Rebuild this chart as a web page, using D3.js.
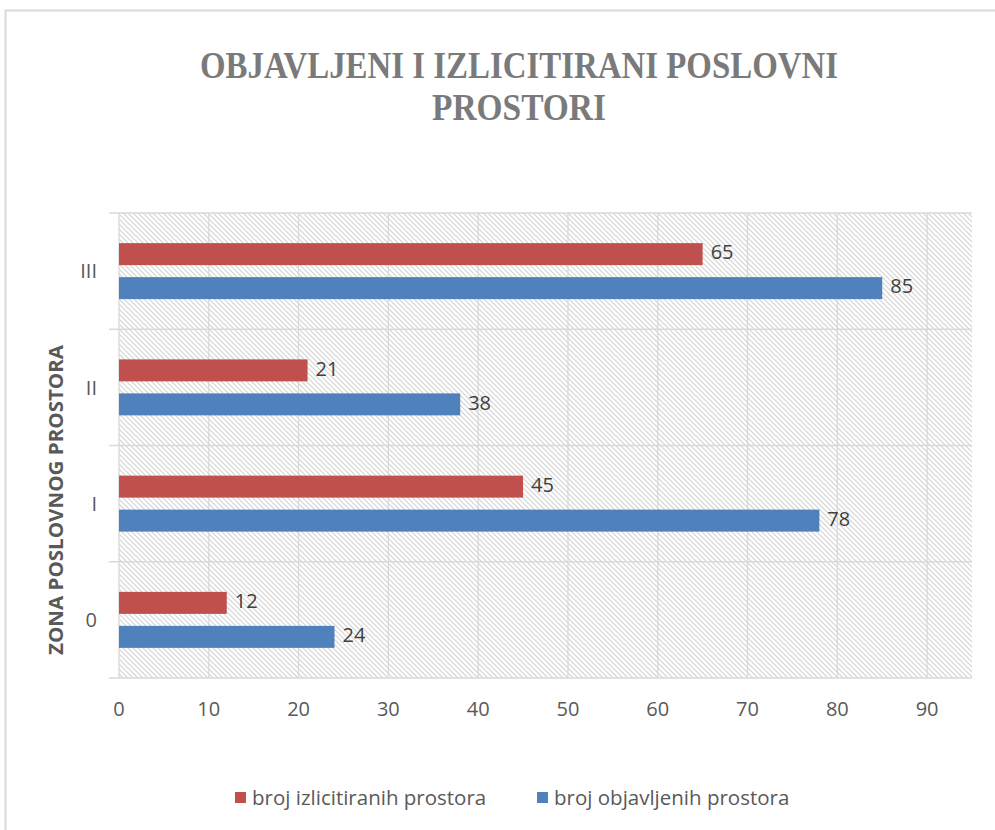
<!DOCTYPE html>
<html>
<head>
<meta charset="utf-8">
<script src="https://cdn.jsdelivr.net/npm/d3@7"></script>
<style>
  body { margin: 0; background: #fff; }
  svg text { font-family: "Open Sans", "Noto Sans", sans-serif; }
</style>
</head>
<body>
<div id="chart"></div>
<script>
// data
const zones = ['III', 'II', 'I', '0'];
const seriesNames = ['broj izlicitiranih prostora', 'broj objavljenih prostora'];
const izlicitirani = [65, 21, 45, 12];
const objavljeni = [85, 38, 78, 24];
const xTicks = [0, 10, 20, 30, 40, 50, 60, 70, 80, 90];
const colors = ['#c0504d', '#4f81bd'];

const width = 995, height = 830;
const plot = { left: 119, right: 972, top: 213, bottom: 678 };

const svg = d3.select('#chart').append('svg')
  .attr('width', width).attr('height', height);

// outer chart frame
svg.append('rect').attr('x', 5.5).attr('y', 10.5)
  .attr('width', width + 10).attr('height', height + 10)
  .style('fill', '#fff').style('stroke', '#d9d9d9').style('stroke-width', 2);

// hatch pattern for plot area
const defs = svg.append('defs');
const pat = defs.append('pattern').attr('id', 'hatch')
  .attr('patternUnits', 'userSpaceOnUse').attr('width', 5).attr('height', 5);
pat.append('rect').attr('width', 5).attr('height', 5).style('fill', '#fff');
pat.append('path').attr('d', 'M-1,-1 L6,6 M-1,4 L1,6 M4,-1 L6,1')
  .style('stroke', '#d4d4d4').style('stroke-width', 1.2);

const x = d3.scaleLinear().domain([0, 95]).range([plot.left, plot.right]);
const y = d3.scaleBand().domain(zones).range([plot.top, plot.bottom]);
const ySub = d3.scaleBand().domain(seriesNames).range([0, y.bandwidth()])
  .paddingInner(0.353).paddingOuter(0.886);

svg.append('rect').attr('x', plot.left).attr('y', plot.top)
  .attr('width', plot.right - plot.left).attr('height', plot.bottom - plot.top)
  .style('fill', 'url(#hatch)');

// vertical gridlines
svg.selectAll('line.grid-x').data(xTicks).enter().append('line').attr('class', 'grid-x')
  .attr('x1', d => x(d)).attr('x2', d => x(d))
  .attr('y1', plot.top).attr('y2', plot.bottom)
  .style('stroke', '#d9d9d9').style('stroke-width', 1.3);

// category separators (with small outside ticks)
const seps = zones.map(z => y(z)).concat([plot.bottom]);
svg.selectAll('line.sep').data(seps).enter().append('line').attr('class', 'sep')
  .attr('x1', plot.left - 10).attr('x2', plot.right)
  .attr('y1', d => d).attr('y2', d => d)
  .style('stroke', '#d9d9d9').style('stroke-width', 1.3);

// bars
const rows = zones.map((z, i) => ({ zone: z, values: [izlicitirani[i], objavljeni[i]] }));
const groups = svg.selectAll('g.zone').data(rows).enter().append('g').attr('class', 'zone')
  .attr('transform', d => 'translate(0,' + y(d.zone) + ')');

groups.selectAll('rect.bar').data(d => d.values.map((v, i) => ({ s: seriesNames[i], v: v, c: colors[i] })))
  .enter().append('rect').attr('class', 'bar')
  .attr('x', x(0)).attr('y', d => ySub(d.s))
  .attr('width', d => x(d.v) - x(0)).attr('height', ySub.bandwidth())
  .style('fill', d => d.c);

groups.selectAll('text.lbl').data(d => d.values.map((v, i) => ({ s: seriesNames[i], v: v })))
  .enter().append('text').attr('class', 'lbl')
  .attr('x', d => x(d.v) + 8).attr('y', d => ySub(d.s) + ySub.bandwidth() / 2 - 2)
  .attr('dy', '0.36em')
  .style('font-size', '20px').style('fill', '#404040')
  .text(d => d.v);

// axes labels
svg.selectAll('text.xt').data(xTicks).enter().append('text').attr('class', 'xt')
  .attr('x', d => x(d)).attr('y', 716)
  .attr('text-anchor', 'middle')
  .style('font-size', '20px').style('fill', '#595959')
  .text(d => d);

svg.selectAll('text.yt').data(zones).enter().append('text').attr('class', 'yt')
  .attr('x', 97).attr('y', d => y(d) + y.bandwidth() / 2)
  .attr('dy', '0.36em').attr('text-anchor', 'end')
  .style('font-size', '20px').style('fill', '#595959')
  .text(d => d);

svg.append('text')
  .attr('transform', 'translate(63,500) rotate(-90)')
  .attr('text-anchor', 'middle')
  .attr('textLength', 310).attr('lengthAdjust', 'spacingAndGlyphs')
  .style('font-size', '19px').style('font-weight', 'bold').style('fill', '#595959')
  .text('ZONA POSLOVNOG PROSTORA');

// title
const title = svg.append('g').attr('class', 'title');
title.append('text').attr('x', 519).attr('y', 78)
  .attr('text-anchor', 'middle')
  .attr('textLength', 638).attr('lengthAdjust', 'spacingAndGlyphs')
  .style('font-family', '"Liberation Serif", "DejaVu Serif", serif')
  .style('font-size', '38px').style('font-weight', 'bold').style('fill', '#7a7a7a')
  .text('OBJAVLJENI I IZLICITIRANI POSLOVNI');
title.append('text').attr('x', 519).attr('y', 120)
  .attr('text-anchor', 'middle')
  .attr('textLength', 174).attr('lengthAdjust', 'spacingAndGlyphs')
  .style('font-family', '"Liberation Serif", "DejaVu Serif", serif')
  .style('font-size', '38px').style('font-weight', 'bold').style('fill', '#7a7a7a')
  .text('PROSTORI');

// legend
const legendX = [235, 537];
const legend = svg.selectAll('g.legend').data(seriesNames).enter().append('g').attr('class', 'legend')
  .attr('transform', (d, i) => 'translate(' + legendX[i] + ',798)');
legend.append('rect').attr('x', 0).attr('y', -6).attr('width', 11).attr('height', 11)
  .style('fill', (d, i) => colors[i]);
legend.append('text').attr('x', 17).attr('y', 0).attr('dy', '0.36em')
  .style('font-size', '20.5px').style('fill', '#595959')
  .text(d => d);
</script>
</body>
</html>
